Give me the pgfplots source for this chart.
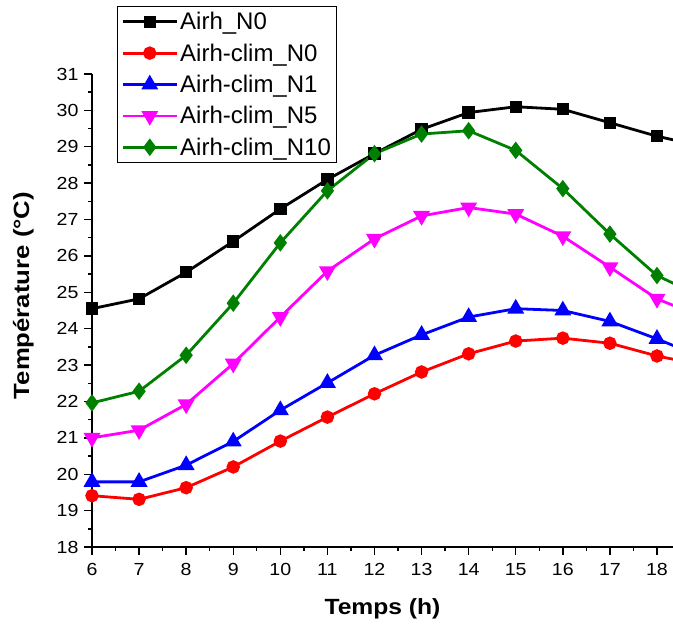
\documentclass[border=0pt]{standalone}
\usepackage{pgfplots}
\pgfplotsset{compat=1.18}
\usepackage{fontspec}
\setmainfont{Liberation Sans}
\newfontfamily\stretchfont[FakeStretch=1.12]{Liberation Sans}
\newfontfamily\ylabfont[FakeStretch=1.17]{Liberation Sans}
\definecolor{mygreen}{RGB}{0,128,0}
\definecolor{mymagenta}{RGB}{255,0,255}
\definecolor{myred}{RGB}{255,0,0}
\definecolor{myblue}{RGB}{0,0,255}
\begin{document}
\begin{tikzpicture}
\begin{axis}[
  name=ax,
  scale only axis,
  width=581pt, height=473pt,
  xmin=6, xmax=18.34, ymin=18, ymax=31,
  clip=true,
  axis lines=left,
  axis line style={-, line width=1.4pt},
  xtick={6,...,18}, ytick={18,...,31},
  minor x tick num=1, minor y tick num=1,
  tick align=outside,
  major tick length=8pt, minor tick length=4pt,
  every tick/.style={line width=1.4pt, black},
  tick label style={font=\stretchfont\fontsize{17.5}{20}\selectfont},
  xticklabel style={yshift=-5pt},
  yticklabel style={xshift=-2pt},
  /pgf/number format/assume math mode=true,
  xlabel={\textbf{Temps (h)}},
  ylabel={\textbf{Température (°C)}},
  xlabel style={font=\stretchfont\fontsize{22}{24}\selectfont, yshift=-16pt},
  ylabel style={font=\ylabfont\fontsize{22}{24}\selectfont, yshift=16pt, xshift=15pt},
  legend style={at={(0.043,1.144)}, anchor=north west, draw=black, line width=0.8pt,
    font=\fontsize{24}{27}\selectfont, row sep=8.5pt, inner xsep=4pt, inner ysep=4pt},
  legend cell align=left,
  legend image code/.code={\draw[mark repeat=2,mark phase=2] plot coordinates {(0pt,0pt)(27pt,0pt)(54pt,0pt)};},
  every axis plot/.append style={line width=2.8pt},
]
\addplot[black, mark=square*, mark size=4.8pt, mark options={solid}] coordinates {
(6,24.55)(7,24.82)(8,25.55)(9,26.40)(10,27.29)(11,28.10)(12,28.81)(13,29.48)(14,29.94)(15,30.10)(16,30.03)(17,29.66)(18,29.29)(19,29.00)};
\addlegendentry{Airh\_N0}
\addplot[myred, mark=*, mark size=5.3pt] coordinates {
(6,19.41)(7,19.31)(8,19.63)(9,20.20)(10,20.91)(11,21.57)(12,22.21)(13,22.81)(14,23.31)(15,23.66)(16,23.74)(17,23.60)(18,23.25)(19,22.99)};
\addlegendentry{Airh-clim\_N0}
\addplot[myblue, mark=triangle*, mark size=7pt] coordinates {
(6,19.79)(7,19.79)(8,20.25)(9,20.90)(10,21.76)(11,22.51)(12,23.27)(13,23.83)(14,24.32)(15,24.55)(16,24.50)(17,24.20)(18,23.72)(19,23.19)};
\addlegendentry{Airh-clim\_N1}
\addplot[mymagenta, mark=triangle*, mark size=7pt, mark options={rotate=180}] coordinates {
(6,21.00)(7,21.21)(8,21.92)(9,23.04)(10,24.32)(11,25.58)(12,26.47)(13,27.10)(14,27.33)(15,27.15)(16,26.54)(17,25.69)(18,24.82)(19,24.30)};
\addlegendentry{Airh-clim\_N5}
\addplot[mygreen, mark=diamond*, mark size=6.5pt] coordinates {
(6,21.96)(7,22.28)(8,23.27)(9,24.70)(10,26.36)(11,27.79)(12,28.81)(13,29.35)(14,29.44)(15,28.90)(16,27.85)(17,26.60)(18,25.46)(19,24.85)};
\addlegendentry{Airh-clim\_N10}
\end{axis}
\pgfresetboundingbox
\path[use as bounding box] ([shift={(-92pt,-79pt)}]ax.south west) rectangle ([shift={(0pt,74pt)}]ax.north east);
\end{tikzpicture}
\end{document}
